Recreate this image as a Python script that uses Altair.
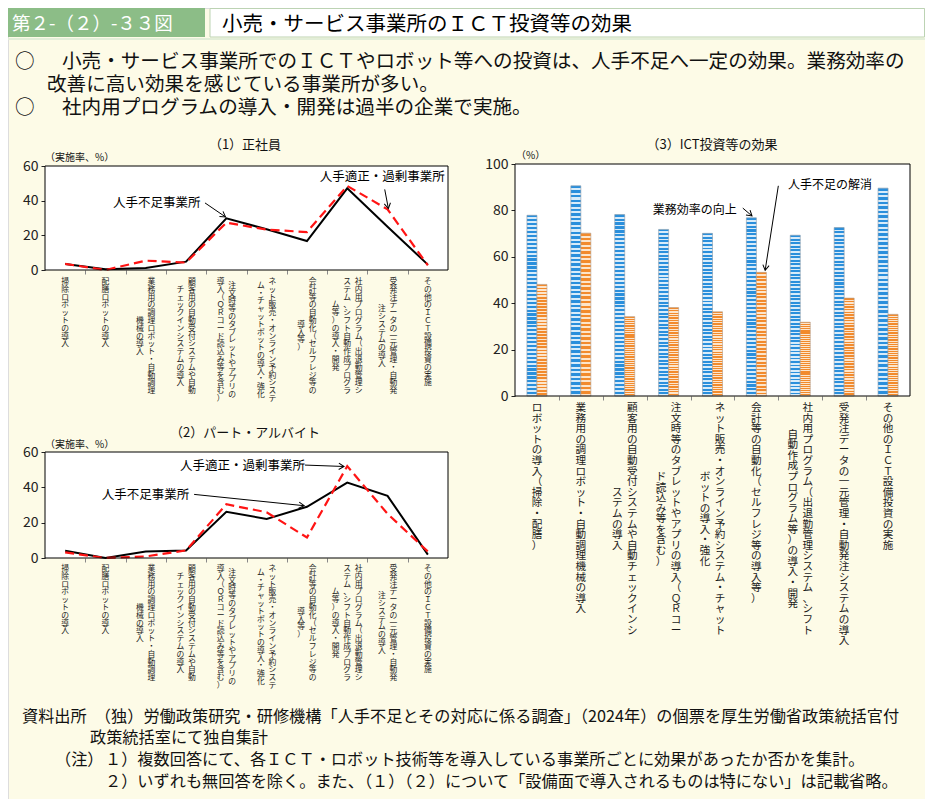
import math
import altair as alt
import pandas as pd

# ------------------------------------------------------------------ text content
HEADER_TAG = "第２-（２）-３３図"
HEADER_TITLE = "小売・サービス事業所のＩＣＴ投資等の効果"
BULLET_MARK = "○"
BULLET_LINES = [
    "小売・サービス事業所でのＩＣＴやロボット等への投資は、人手不足へ一定の効果。業務効率の",
    "改善に高い効果を感じている事業所が多い。",
    "社内用プログラムの導入・開発は過半の企業で実施。",
]
PANEL_TITLES = ["（1）正社員", "（2）パート・アルバイト", "（3）ICT投資等の効果"]
UNIT_RATE = "（実施率、%）"
UNIT_PCT = "（%）"
SOURCE_LINES = [
    "資料出所　（独）労働政策研究・研修機構「人手不足とその対応に係る調査」（2024年）の個票を厚生労働省政策統括官付",
    "政策統括室にて独自集計",
]
NOTE_HEAD = "（注）"
NOTE_LINES = [
    "１）複数回答にて、各ＩＣＴ・ロボット技術等を導入している事業所ごとに効果があったか否かを集計。",
    "２）いずれも無回答を除く。また、（１）（２）について「設備面で導入されるものは特にない」は記載省略。",
]

# ------------------------------------------------------------------ categories (vertical label columns, right to left)
LINE_LABEL_COLUMNS = [
    ["掃除ロボットの導入"],
    ["配膳ロボットの導入"],
    ["業務用の調理ロボット・自動調理", "機械の導入"],
    ["顧客用の自動受付システムや自動", "チェックインシステムの導入"],
    ["注文時等のタブレットやアプリの", "導入（ＱＲコード読込み等を含む）"],
    ["ネット販売・オンライン予約システ", "ム・チャットボットの導入・強化"],
    ["会計等の自動化（セルフレジ等の", "導入等）"],
    ["社内用プログラム（出退勤管理シ", "ステム、シフト自動作成プログラ", "ム等）の導入・開発"],
    ["受発注データの一元管理・自動発", "注システムの導入"],
    ["その他のＩＣＴ設備投資の実施"],
]
BAR_LABEL_COLUMNS = [
    ["ロボットの導入（掃除・配膳）"],
    ["業務用の調理ロボット・自動調理機械の導入"],
    ["顧客用の自動受付システムや自動チェックインシ", "ステムの導入"],
    ["注文時等のタブレットやアプリの導入（ＱＲコー", "ド読込み等を含む）"],
    ["ネット販売・オンライン予約システム・チャット", "ボットの導入・強化"],
    ["会計等の自動化（セルフレジ等の導入等）"],
    ["社内用プログラム（出退勤管理システム、シフト", "自動作成プログラム等）の導入・開発"],
    ["受発注データの一元管理・自動発注システムの導入"],
    ["その他のＩＣＴ設備投資の実施"],
]

# ------------------------------------------------------------------ series values
LINE_SERIES = ["人手不足事業所", "人手適正・過剰事業所"]
FULLTIME_SHORTAGE = [3.5, 0.4, 1.2, 4.8, 29.8, 23.5, 16.7, 47.1, 25.0, 3.1]
FULLTIME_ADEQUATE = [3.5, 0.0, 5.4, 4.3, 27.3, 23.3, 21.9, 48.5, 35.0, 2.7]
PARTTIME_SHORTAGE = [4.1, 0.0, 3.7, 4.3, 26.2, 22.1, 29.0, 42.7, 35.2, 1.9]
PARTTIME_ADEQUATE = [3.2, 0.0, 0.9, 4.3, 30.4, 25.9, 11.6, 52.0, 25.0, 3.7]

BAR_SERIES = ["業務効率の向上", "人手不足の解消"]
EFFECT_EFFICIENCY = [77.9, 90.6, 78.2, 71.8, 70.1, 76.8, 69.3, 72.6, 89.6]
EFFECT_SHORTAGE = [48.1, 70.2, 34.2, 38.1, 36.3, 53.3, 31.8, 42.2, 35.2]

LINE_TICKS = [0, 20, 40, 60]
BAR_TICKS = [0, 20, 40, 60, 80, 100]

# ------------------------------------------------------------------ layout / style
FONT = "Noto Sans CJK JP"
W, H = 917, 791
BG = "#fdfbe7"


def make_panel(x0, x1, y0, y1, n, ymax):
    return dict(
        x0=x0, x1=x1, y0=y0, y1=y1, n=n, ymax=ymax,
        ux=(x1 - x0) / n, uy=(y0 - y1) / ymax,
        sx=alt.Scale(domain=[-0.5, n - 0.5], range=[x0, x1], nice=False, zero=False),
        sy=alt.Scale(domain=[0, ymax], range=[y0, y1], nice=False, zero=False),
    )


P1 = make_panel(37, 440, 262, 158, len(FULLTIME_SHORTAGE), 60)
P2 = make_panel(37, 440, 550, 444, len(PARTTIME_SHORTAGE), 60)
P3 = make_panel(507, 902, 388, 156, len(EFFECT_EFFICIENCY), 100)

# annotation: (text, text_x, text_y, arrow_x1, arrow_y1, arrow_x2, arrow_y2) in data units
ANNOT_P1 = [
    (LINE_SERIES[0], 1.19, 38.7, 3.47, 38.7, 3.98, 30.6),
    (LINE_SERIES[1], 6.32, 53.7, 7.93, 46.5, 8.02, 35.5),
]
ANNOT_P2 = [
    (LINE_SERIES[1], 2.85, 52.1, 5.95, 52.6, 6.92, 51.8),
    (LINE_SERIES[0], 0.91, 35.7, 3.2, 36.0, 5.93, 29.6),
]
ANNOT_P3 = [
    (BAR_SERIES[0], 2.64, 80.2, 4.69, 81.0, 4.9, 77.6),
    (BAR_SERIES[1], 5.72, 91.0, 5.5, 90.6, 5.2, 54.2),
]
V_HEAD = "M -0.6 -1 L 0 0 L 0.6 -1"


def text_layer(s, x, y, size, color="#111111", align="left", baseline="middle", weight="normal"):
    return alt.Chart(pd.DataFrame({"t": [s]})).mark_text(
        align=align, baseline=baseline, fontSize=size, color=color, fontWeight=weight, font=FONT
    ).encode(x=alt.value(x), y=alt.value(y), text="t:N")


def box_layer(x, x2, y, y2, fill, stroke=None, sw=1.0):
    kw = dict(fill=fill)
    if stroke is not None:
        kw.update(stroke=stroke, strokeWidth=sw)
    return alt.Chart(pd.DataFrame({"k": [0]})).mark_rect(**kw).encode(
        x=alt.value(x), x2=alt.value(x2), y=alt.value(y), y2=alt.value(y2)
    )


def frame_df(p):
    return pd.DataFrame({"a": [-0.5], "b": [p["n"] - 0.5], "c": [0], "d": [p["ymax"]]})


def frame_fill(p):
    return alt.Chart(frame_df(p)).mark_rect(fill="white").encode(
        x=alt.X("a:Q", scale=p["sx"], axis=None), x2="b:Q",
        y=alt.Y("c:Q", scale=p["sy"], axis=None), y2="d:Q",
    )


def frame_border(p, ticks):
    return alt.Chart(frame_df(p)).mark_rect(fillOpacity=0, stroke="black", strokeWidth=1).encode(
        x=alt.X("a:Q", scale=p["sx"], axis=alt.Axis(
            orient="bottom", offset=p["y0"] - H, values=[k + 0.5 for k in range(p["n"] - 1)],
            labels=False, domain=False, ticks=True, tickSize=4, tickColor="#888888", grid=False, title=None)),
        x2="b:Q",
        y=alt.Y("c:Q", scale=p["sy"], axis=alt.Axis(
            orient="left", offset=-p["x0"], values=ticks, domain=False, ticks=True, tickSize=4,
            tickColor="#222222", labelFontSize=14, labelColor="#222222", labelPadding=3,
            labelFont=FONT, grid=False, title=None)),
        y2="d:Q",
    )


def line_layers(p, shortage, adequate):
    n = p["n"]
    df = pd.DataFrame({"i": list(range(n)) * 2, "v": shortage + adequate,
                       "s": [LINE_SERIES[0]] * n + [LINE_SERIES[1]] * n})
    enc = dict(x=alt.X("i:Q", scale=p["sx"], axis=None), y=alt.Y("v:Q", scale=p["sy"], axis=None))
    black = alt.Chart(df).transform_filter(alt.datum.s == LINE_SERIES[0]).mark_line(
        color="black", strokeWidth=2).encode(**enc)
    red = alt.Chart(df).transform_filter(alt.datum.s == LINE_SERIES[1]).mark_line(
        color="#ff1414", strokeWidth=2.2, strokeDash=[9, 5]).encode(**enc)
    return [black, red]


def label_layer(p, columns, top, lh, size, spacing):
    rows = []
    for i, cols in enumerate(columns):
        m = max(len(c) for c in cols)
        nc = len(cols)
        for k, c in enumerate(cols):
            rows.append({"x": i + ((nc - 1) / 2 - k) * spacing / p["ux"],
                         "start": (m - len(c)) / 2, "t": "\n".join(c)})
    return alt.Chart(pd.DataFrame(rows)).mark_text(
        align="center", baseline="top", fontSize=size, lineHeight=lh, lineBreak="\n",
        font=FONT, color="#1a1a1a",
    ).encode(
        x=alt.X("x:Q", scale=p["sx"], axis=None),
        y=alt.Y("start:Q", scale=alt.Scale(domain=[0, 1], range=[top, top + lh], nice=False, zero=False), axis=None),
        text="t:N",
    )


def annot_layers(p, items, size=12.5):
    rows = []
    for (t, tx, ty, ax1, ay1, ax2, ay2) in items:
        dx = (ax2 - ax1) * p["ux"]
        dy = -(ay2 - ay1) * p["uy"]
        ang = math.degrees(math.atan2(-dx, dy)) % 360
        rows.append(dict(t=t, tx=tx, ty=ty, ax1=ax1, ay1=ay1, ax2=ax2, ay2=ay2, ang=ang))
    df = pd.DataFrame(rows)
    sx, sy = p["sx"], p["sy"]
    txt = alt.Chart(df).mark_text(align="left", baseline="middle", fontSize=size, font=FONT, color="black").encode(
        x=alt.X("tx:Q", scale=sx, axis=None), y=alt.Y("ty:Q", scale=sy, axis=None), text="t:N")
    rule = alt.Chart(df).mark_rule(color="black", strokeWidth=1).encode(
        x=alt.X("ax1:Q", scale=sx, axis=None), y=alt.Y("ay1:Q", scale=sy, axis=None), x2="ax2:Q", y2="ay2:Q")
    head = alt.Chart(df).mark_point(shape=V_HEAD, filled=False, size=110, color="black", strokeWidth=1, opacity=1).encode(
        x=alt.X("ax2:Q", scale=sx, axis=None), y=alt.Y("ay2:Q", scale=sy, axis=None),
        angle=alt.Angle("ang:Q", scale=None))
    return [txt, rule, head]


def stripe_gradient(c_main, c_light, n, frac):
    stops = []
    for k in range(n):
        a, b, c = round(k / n, 5), round((k + frac) / n, 5), round((k + 1) / n, 5)
        stops += [alt.GradientStop(offset=a, color=c_main), alt.GradientStop(offset=b, color=c_main),
                  alt.GradientStop(offset=b, color=c_light), alt.GradientStop(offset=c, color=c_light)]
    return alt.LinearGradient(gradient="linear", stops=stops, x1=0, y1=0, x2=0, y2=1)


def bar_layers(p, eff, sho, bar_px=10):
    w = bar_px / p["ux"]
    n = p["n"]
    df = pd.DataFrame({
        "i": list(range(n)) * 2,
        "v": eff + sho,
        "s": [BAR_SERIES[0]] * n + [BAR_SERIES[1]] * n,
        "side": [-1] * n + [1] * n,
        "z": [0] * (2 * n),
    })
    df["l"] = df["i"] + df["side"].clip(upper=0) * w
    df["r"] = df["i"] + df["side"].clip(lower=0) * w
    enc = dict(x=alt.X("l:Q", scale=p["sx"], axis=None), x2="r:Q",
               y=alt.Y("v:Q", scale=p["sy"], axis=None), y2="z:Q")
    blue = alt.Chart(df).transform_filter(alt.datum.s == BAR_SERIES[0]).mark_bar(
        fill=stripe_gradient("#2a8fdc", "#d8ecfa", 46, 0.55), stroke="#8a9aa8", strokeWidth=0.6
    ).encode(**enc)
    orange = alt.Chart(df).transform_filter(alt.datum.s == BAR_SERIES[1]).mark_bar(
        fill=stripe_gradient("#f28a2c", "#fde5cb", 36, 0.55), stroke="#b09a88", strokeWidth=0.6
    ).encode(**enc)
    return [blue, orange]


layers = []
# header
layers.append(box_layer(0, 197, 0, 29, "#8cbd87"))
layers.append(box_layer(202, 916.5, 0.5, 29, "white", stroke="#bcd3b3", sw=1))
layers.append(text_layer(HEADER_TAG, 4, 16, 18.5, color="white"))
layers.append(text_layer(HEADER_TITLE, 214, 17, 20.5, color="black"))
layers.append(box_layer(0, 917, 30, 32, "#e3eed8"))

# bullets
BULLET_SIZE = 19.6
layers.append(text_layer(BULLET_MARK, 7, 54, BULLET_SIZE))
layers.append(text_layer(BULLET_LINES[0], 54, 54, BULLET_SIZE))
layers.append(text_layer(BULLET_LINES[1], 39, 77, BULLET_SIZE))
layers.append(text_layer(BULLET_MARK, 7, 100, BULLET_SIZE))
layers.append(text_layer(BULLET_LINES[2], 54, 100, BULLET_SIZE))

# panel titles and units
layers.append(text_layer(PANEL_TITLES[0], 237, 137, 13, align="center"))
layers.append(text_layer(PANEL_TITLES[1], 237, 425, 13, align="center"))
layers.append(text_layer(PANEL_TITLES[2], 704, 137, 13, align="center"))
layers.append(text_layer(UNIT_RATE, 37, 150, 10))
layers.append(text_layer(UNIT_RATE, 37, 437, 10))
layers.append(text_layer(UNIT_PCT, 508, 148, 10))

# panel 1
layers.append(frame_fill(P1))
layers += line_layers(P1, FULLTIME_SHORTAGE, FULLTIME_ADEQUATE)
layers.append(frame_border(P1, LINE_TICKS))
layers.append(label_layer(P1, LINE_LABEL_COLUMNS, 270, 7.8, 7.8, 11.5))
layers += annot_layers(P1, ANNOT_P1)

# panel 2
layers.append(frame_fill(P2))
layers += line_layers(P2, PARTTIME_SHORTAGE, PARTTIME_ADEQUATE)
layers.append(frame_border(P2, LINE_TICKS))
layers.append(label_layer(P2, LINE_LABEL_COLUMNS, 557, 7.8, 7.8, 11.5))
layers += annot_layers(P2, ANNOT_P2)

# panel 3
layers.append(frame_fill(P3))
layers += bar_layers(P3, EFFECT_EFFICIENCY, EFFECT_SHORTAGE)
layers.append(frame_border(P3, BAR_TICKS))
layers.append(label_layer(P3, BAR_LABEL_COLUMNS, 395, 10.6, 10.6, 15))
layers += annot_layers(P3, ANNOT_P3, size=12)

# footer
FOOT_SIZE = 16.2
layers.append(text_layer(SOURCE_LINES[0], 14, 709, FOOT_SIZE))
layers.append(text_layer(SOURCE_LINES[1], 82, 730, FOOT_SIZE))
layers.append(text_layer(NOTE_HEAD, 47, 752, FOOT_SIZE))
layers.append(text_layer(NOTE_LINES[0], 97, 752, FOOT_SIZE))
layers.append(text_layer(NOTE_LINES[1], 97, 774, FOOT_SIZE))

chart = alt.layer(*layers).resolve_scale(x="independent", y="independent").properties(
    width=W, height=H, autosize=alt.AutoSizeParams(type="none"), padding=0, background=BG
).configure_view(strokeWidth=0).configure(font=FONT)

chart.save("out.html", embed_options={"renderer": "svg", "actions": False})
